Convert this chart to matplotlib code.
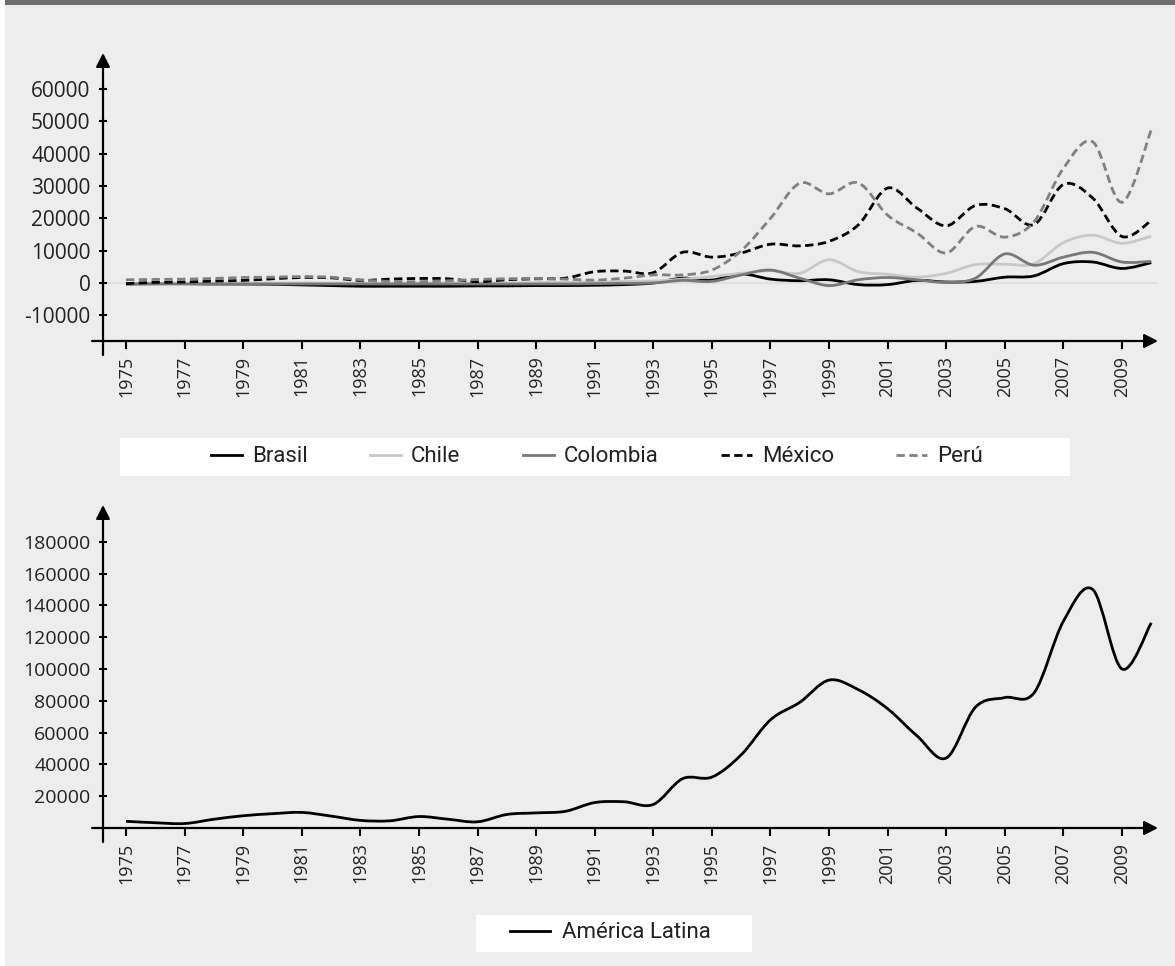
import numpy as np
import matplotlib
matplotlib.use("Agg")
import matplotlib.pyplot as plt
from matplotlib.path import Path
from matplotlib.patches import PathPatch, Rectangle
from matplotlib.lines import Line2D
from matplotlib.font_manager import FontProperties

years = list(range(1975, 2011))
tick_years = list(range(1975, 2010, 2))

brasil = [-300, -200, -200, -300, -300, -400, -600, -800, -1000, -1000, -1000, -1000,
          -900, -900, -800, -800, -700, -500, 0, 1500, 900, 2800, 1200, 700, 1000, -500,
          -500, 800, 300, 500, 1800, 2200, 6000, 6500, 4500, 6300]
chile = [-200, -200, -100, -100, 0, 0, 0, 0, -100, -100, 0, 0, 0, 0, 100, 200, 300, 500,
         600, 1200, 2000, 3000, 3800, 3000, 7200, 3500, 2700, 1800, 3000, 5700, 5800, 6000,
         12500, 14800, 12300, 14500]
colombia = [-300, -300, -300, -300, -300, -300, -300, -300, -300, -300, -300, -300, -300,
            -300, -300, -300, -200, -100, 0, 800, 500, 2500, 4000, 1500, -800, 1000, 1700,
            1000, 200, 1500, 9000, 5500, 8000, 9500, 6500, 6700]
mexico = [-200, 200, 300, 600, 800, 1300, 1700, 1600, 800, 1200, 1400, 1300, 400, 1000,
          1300, 1500, 3500, 3700, 3200, 9500, 8000, 9300, 12000, 11500, 12900, 18000, 29400,
          23200, 17700, 24000, 23000, 18100, 30500, 26300, 14400, 19300]
peru = [1000, 1100, 1200, 1400, 1700, 1800, 2000, 1800, 1000, 500, 400, 700, 1100, 1300,
        1400, 1200, 900, 1500, 2500, 2500, 4000, 10000, 20000, 30900, 27600, 31000, 21000,
        15500, 9300, 17500, 14200, 19000, 35500, 43700, 25000, 47400]
america_latina = [4200, 3300, 2800, 5500, 7700, 9000, 9800, 7500, 4800, 4500, 7200, 5500,
                  3900, 8500, 9500, 10500, 16000, 16500, 14800, 31000, 32000, 46000, 68000,
                  79000, 93000, 87000, 75000, 58000, 44000, 76000, 82000, 85000, 130000,
                  150000, 100000, 129000]

top_ticks = [-10000, 0, 10000, 20000, 30000, 40000, 50000, 60000]
bottom_ticks = [20000, 40000, 60000, 80000, 100000, 120000, 140000, 160000, 180000]

series = [
    ("Brasil", brasil, "#000000", "-"),
    ("Chile", chile, "#c8c8c8", "-"),
    ("Colombia", colombia, "#787878", "-"),
    ("México", mexico, "#000000", (0, (3, 1.6))),
    ("Perú", peru, "#808080", (0, (3, 1.6))),
]

W, H = 1175, 966
bg = "#ededed"


def smooth_path(x, y):
    # Bezier curve through the points (spreadsheet style smoothed line)
    x = np.asarray(x, float)
    y = np.asarray(y, float)
    verts = [(x[0], y[0])]
    codes = [Path.MOVETO]
    n = len(x)
    for i in range(n - 1):
        p0 = (x[max(i - 1, 0)], y[max(i - 1, 0)])
        p1 = (x[i], y[i])
        p2 = (x[i + 1], y[i + 1])
        p3 = (x[min(i + 2, n - 1)], y[min(i + 2, n - 1)])
        c1 = (p1[0] + (p2[0] - p0[0]) / 6, p1[1] + (p2[1] - p0[1]) / 6)
        c2 = (p2[0] - (p3[0] - p1[0]) / 6, p2[1] - (p3[1] - p1[1]) / 6)
        verts += [c1, c2, p2]
        codes += [Path.CURVE4] * 3
    return Path(verts, codes)


def px_axes(fig, left, right, bottom, top):
    return fig.add_axes([left / W, 1 - bottom / H, (right - left) / W, (bottom - top) / H])


def draw_frame(ax, xlo, xhi, ylo, yhi, x_left, y_below, ticks, labels_size):
    ax.set_facecolor("none")
    for s in ax.spines.values():
        s.set_visible(False)
    ax.set_xlim(xlo, xhi)
    ax.set_ylim(ylo, yhi)
    arrow = dict(arrowstyle="-|>,head_length=0.55,head_width=0.28", color="black",
                 lw=1.6, shrinkA=0, shrinkB=0, mutation_scale=15)
    ax.annotate("", xy=(xhi, ylo), xytext=(x_left, ylo), arrowprops=arrow,
                annotation_clip=False)
    ax.annotate("", xy=(xlo, yhi), xytext=(xlo, y_below), arrowprops=arrow,
                annotation_clip=False)
    ax.set_xticks(tick_years)
    ax.set_xticklabels([str(t) for t in tick_years], rotation=90, fontsize=13,
                       family="Open Sans", color="#222222")
    ax.set_yticks(ticks)
    ax.set_yticklabels([str(t) for t in ticks], fontsize=labels_size,
                       family="Open Sans", color="#222222")
    ax.tick_params(axis="x", direction="out", length=5.5, width=1.5, pad=5)
    ax.tick_params(axis="y", direction="inout", length=6, width=1.5, pad=6)


fig = plt.figure(figsize=(W / 100, H / 100), dpi=100)
fig.patch.set_facecolor("white")
fig.add_artist(Rectangle((5 / W, 0), 1 - 5 / W, 1 - 5 / H, transform=fig.transFigure,
                         facecolor=bg, edgecolor="none", zorder=-5))
fig.add_artist(Rectangle((5 / W, 1 - 5 / H), 1 - 5 / W, 5 / H, transform=fig.transFigure,
                         facecolor="#6e6e6e", edgecolor="none", zorder=-5))

# top panel
ax1 = px_axes(fig, 103, 1158, 341, 53)
draw_frame(ax1, 1974.215, 2010.23, -17957, 71207, 1973.84, -22300, top_ticks, 15)
ax1.axhline(0, color="#e0e0e0", lw=1.5, zorder=1)
handles = []
for name, vals, col, ls in series:
    ax1.add_patch(PathPatch(smooth_path(years, vals), fill=False, edgecolor=col,
                            lw=2.0, linestyle=ls, capstyle="butt", zorder=3))
    handles.append(Line2D([], [], color=col, lw=2.0, linestyle=ls))

fig.add_artist(Rectangle((120 / W, 1 - 476 / H), 950 / W, 38 / H, transform=fig.transFigure,
                         facecolor="white", edgecolor="none", zorder=0))
leg_font = FontProperties(family="Roboto", size=16)
fig.legend(handles, [s[0] for s in series], loc="center", ncol=5,
           bbox_to_anchor=(597 / W, 1 - 457 / H), frameon=False, prop=leg_font,
           handlelength=1.4, handletextpad=0.45, columnspacing=2.8, labelcolor="#222222")

# bottom panel
ax2 = px_axes(fig, 103, 1158, 828, 505)
draw_frame(ax2, 1974.215, 2010.23, 0, 203100, 1973.84, -8800, bottom_ticks, 14)
ax2.add_patch(PathPatch(smooth_path(years, america_latina), fill=False, edgecolor="black",
                        lw=2.0, zorder=3))

fig.add_artist(Rectangle((476 / W, 1 - 952 / H), 276 / W, 37 / H, transform=fig.transFigure,
                         facecolor="white", edgecolor="none", zorder=0))
fig.legend([Line2D([], [], color="black", lw=2.0)], ["América Latina"], loc="center",
           bbox_to_anchor=(610 / W, 1 - 933 / H), frameon=False, prop=leg_font,
           handlelength=1.8, handletextpad=0.55, labelcolor="#222222")

fig.savefig("out.png", dpi=100, facecolor=fig.get_facecolor())
